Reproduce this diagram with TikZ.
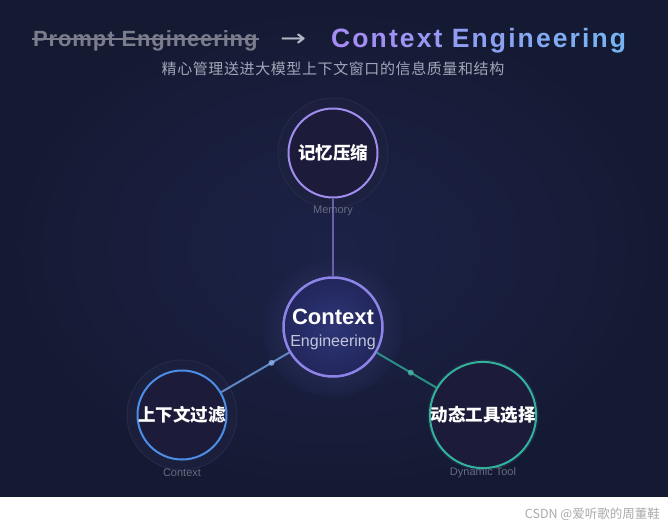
\documentclass[tikz,border=0pt]{standalone}
\usepackage{fontspec}
\usepackage{graphicx}
\setmainfont{Liberation Sans}
\newfontfamily\cjk{Noto Sans CJK SC}
\newfontfamily\arrowfont{DejaVu Sans}
\newfontfamily\subfont{Noto Sans CJK SC}[LetterSpace=4]
\newfontfamily\oldfont{Liberation Sans}[LetterSpace=4]
\usetikzlibrary{calc}
\definecolor{bgin}{HTML}{1C2247}
\definecolor{bgout}{HTML}{151A33}
\definecolor{bgbot}{HTML}{111733}
\definecolor{cA}{HTML}{A68CF4}
\definecolor{cB}{HTML}{76B4F2}
\definecolor{greytxt}{HTML}{7B7D8C}
\definecolor{subtxt}{HTML}{A3A6B8}
\definecolor{labtxt}{HTML}{676B82}
\definecolor{memcol}{HTML}{A08DEE}
\definecolor{ctxcol}{HTML}{4C8DE6}
\definecolor{toolcol}{HTML}{2FB39B}
\definecolor{centcol}{HTML}{8E84E8}
\definecolor{nodefill}{HTML}{1C1C3A}
\definecolor{halo}{HTML}{1E2240}
\definecolor{haloring}{HTML}{262A48}
\definecolor{centin}{HTML}{2E3676}
\definecolor{centout}{HTML}{22265C}
\definecolor{csubcol}{HTML}{C4C6DE}
\definecolor{wmcol}{HTML}{AAAAAA}
\newcommand{\gl}[2]{\textcolor{cA!#1!cB}{#2}\kern2.1pt\relax}
\tikzset{
  satnode/.style={circle, minimum size=89pt, inner sep=0pt, line width=2pt, fill=nodefill,
     text=white, font=\cjk\bfseries\fontsize{17.5}{18}\selectfont},
  sublabel/.style={text=labtxt, font=\fontsize{11}{12}\selectfont, inner sep=0pt},
  linkline/.style={line width=2pt, opacity=0.75},
  linkdot/.style={circle, inner sep=0pt, minimum size=6pt},
}
\begin{document}
\begin{tikzpicture}[x=1pt,y=-1pt]
\useasboundingbox (0,0) rectangle (668,528);
% background
\shade[inner color=bgin, outer color=bgout] (0,0) rectangle (668,497);
\fill[white] (0,497) rectangle (668,528);

% title
\node[anchor=base west, inner sep=0pt, text=greytxt, font=\oldfont\bfseries\fontsize{22}{24}\selectfont] (pe) at (33,46) {Prompt Engineering};
\draw[greytxt, line width=1.6pt] ($(pe.base west)+(-1,-7)$) -- ($(pe.base east)+(1,-7)$);
\node[anchor=base west, inner sep=0pt, text=subtxt!80!white, font=\arrowfont\fontsize{24}{24}\selectfont] (arr) at (280,46) {\scalebox{1.3}[1]{→}};
\node[anchor=base west, inner sep=0pt, font=\bfseries\fontsize{26.5}{28}\selectfont] (ce) at (331,47)
  {\gl{100}{C}\gl{95}{o}\gl{89}{n}\gl{84}{t}\gl{78}{e}\gl{73}{x}\gl{67}{t}\ \gl{55}{E}\gl{50}{n}\gl{44}{g}\gl{39}{i}\gl{33}{n}\gl{28}{e}\gl{22}{e}\gl{17}{r}\gl{11}{i}\gl{6}{n}\gl{0}{g}};
\node[inner sep=0pt, text=subtxt, font=\subfont\fontsize{15}{16}\selectfont] (sub) at (333,69) {精心管理送进大模型上下文窗口的信息质量和结构};

% halos
\fill[halo, opacity=0.7] (333,153) circle (55);
\draw[haloring, line width=1pt] (333,153) circle (55);
\fill[halo, opacity=0.7] (182,415) circle (55);
\draw[haloring, line width=1pt] (182,415) circle (55);
\fill[halo, opacity=0.7] (483,415) circle (55);
\draw[haloring, line width=1pt] (483,415) circle (55);
\shade[inner color=centcol!45!bgbot, outer color=bgin, opacity=0.6] (333,327) circle (70);

% nodes
\node[satnode, draw=memcol] (mem) at (333,153) {记忆压缩};
\node[satnode, draw=ctxcol] (ctx) at (182,415) {上下文过滤};
\node[satnode, draw=toolcol] (tool) at (483,415) {动态工具选择};
\node[circle, minimum size=99pt, inner sep=0pt, line width=2.5pt, draw=centcol,
      inner color=centin, outer color=centout] (center) at (333,327) {};
\node[anchor=base, inner sep=0pt, text=white, font=\bfseries\fontsize{22}{22}\selectfont] (ctitle) at (333,324) {Context};
\node[anchor=base, inner sep=0pt, text=csubcol, font=\fontsize{16}{16}\selectfont] (csub) at (333,346) {Engineering};

% labels
\node[sublabel] (lmem) at (333,211) {Memory};
\node[sublabel] (lctx) at (182,473) {Context};
\node[sublabel] (ltool) at (483,473) {Dynamic Tool};

% connectors
\draw[linkline, color=memcol!80!bgbot] (mem) -- (center);
\draw[linkline, color=ctxcol!75!white] (ctx) -- (center) node[linkdot, pos=0.74, fill=ctxcol!60!white] (d1) {};
\draw[linkline, color=toolcol] (tool) -- (center) node[linkdot, pos=0.43, fill=toolcol!85!white] (d2) {};

% watermark
\node[anchor=base east, inner sep=0pt, text=wmcol, font=\cjk\fontsize{12.5}{13}\selectfont] (wm) at (660,518) {CSDN @爱听歌的周董鞋};
\end{tikzpicture}
\end{document}
